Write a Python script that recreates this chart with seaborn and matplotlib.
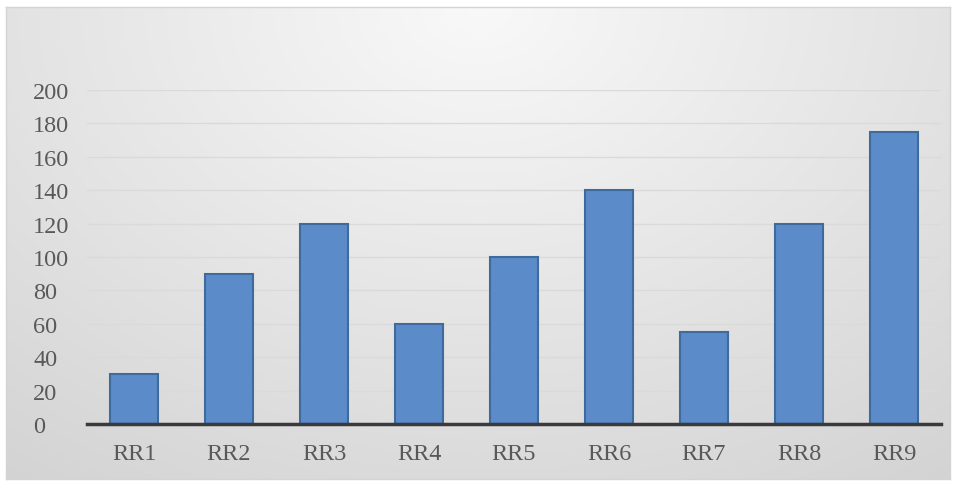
import numpy as np
import pandas as pd
import matplotlib.pyplot as plt
import seaborn as sns

categories = ['RR1', 'RR2', 'RR3', 'RR4', 'RR5', 'RR6', 'RR7', 'RR8', 'RR9']
values = [30, 90, 120, 60, 100, 140, 55, 120, 175]
yticks = [0, 20, 40, 60, 80, 100, 120, 140, 160, 180, 200]

df = pd.DataFrame({'cat': categories, 'val': values})

sns.set_style("white")
plt.rcParams['font.family'] = ['Liberation Serif', 'DejaVu Serif']

W, H = 958, 489
fig = plt.figure(figsize=(W / 100, H / 100), dpi=100)
fig.patch.set_facecolor('white')

# radial gradient panel behind the chart
bg = fig.add_axes([6 / W, (H - 480) / H, 944 / W, 472 / H])
yy, xx = np.mgrid[0:1:240j, 0:1:480j]
r = np.sqrt(((xx - 0.5) / 0.75) ** 2 + ((yy - 0.0) / 1.1) ** 2)
shade = 0.975 - 0.13 * np.clip(r, 0, 1.2)
bg.imshow(np.dstack([shade] * 3), aspect='auto', extent=[0, 1, 1, 0])
bg.set_xticks([])
bg.set_yticks([])
for s in bg.spines.values():
    s.set_color('#d4d4d4')
    s.set_linewidth(1)

ax = fig.add_axes([86.5 / W, (H - 425) / H, 855 / W, 334 / H])
ax.patch.set_alpha(0)
sns.barplot(data=df, x='cat', y='val', color='#5b8bc8', saturation=1,
            width=0.5, edgecolor='#3f6a9c', linewidth=1.5, ax=ax, zorder=3)

ax.set_ylim(0, 200)
ax.set_xlim(-0.5, 8.5)
ax.set_yticks(yticks)
ax.yaxis.grid(True, color='#dadada', linewidth=1)
ax.set_axisbelow(True)
for side in ['top', 'right', 'left']:
    ax.spines[side].set_visible(False)
ax.spines['bottom'].set_color('#3a3a3a')
ax.spines['bottom'].set_linewidth(2.5)
ax.spines['bottom'].set_zorder(5)
ax.tick_params(axis='both', length=0, labelsize=17.5, colors='#595959')
ax.tick_params(axis='y', pad=38.5)
ax.tick_params(axis='x', pad=14)
for lbl in ax.get_yticklabels():
    lbl.set_horizontalalignment('left')
ax.set_xlabel('')
ax.set_ylabel('')

plt.savefig('out.png', dpi=100)
plt.close()
